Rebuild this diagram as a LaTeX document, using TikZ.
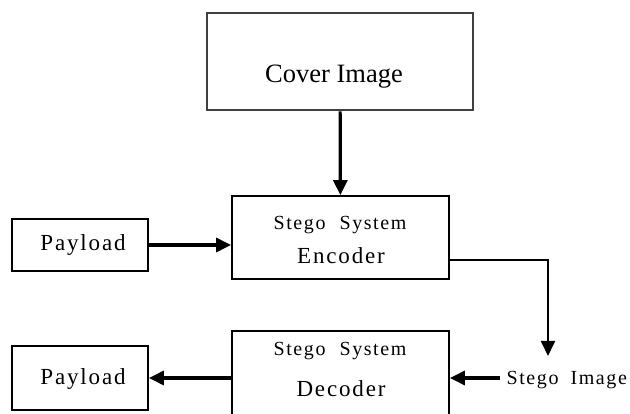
\documentclass[tikz,border=0pt]{standalone}
\usepackage{fontspec}
\setmainfont{Liberation Serif}
\newfontfamily\spacedfont[LetterSpace=8]{Liberation Serif}
\usetikzlibrary{arrows.meta,positioning}
\tikzset{
     blockNode/.style =
        { rectangle
        , draw
        , line width=1.8pt
        , inner sep=0pt
        %, fill=gray!10
        }
   , bigNode/.style =
        { blockNode
        , draw=black!75
        , line width=2.8pt
        }
   , textNode/.style =
        { inner sep=0pt
        , font=\spacedfont\fontsize{23}{26}\selectfont
        }
   , stegoText/.style =
        { inner sep=0pt
        , font=\spacedfont\fontsize{20}{24}\selectfont
        }
}

\begin{document}
\begin{tikzpicture}
            [ x=1pt
            , y=-1pt
            , ->
            , >={Triangle[length=15pt,width=14pt]}
            , line width=3.2pt
            ]
            \useasboundingbox (0,0) rectangle (630,414);

            % boxes
            \node[bigNode, minimum width=266pt, minimum height=97pt] (cover) at (340,61.5) {};
            \node[blockNode, minimum width=217pt, minimum height=83pt] (enc) at (340.5,237.5) {};
            \node[blockNode, minimum width=217pt, minimum height=90pt] (dec) at (340.5,376) {};
            \node[blockNode, minimum width=136pt, minimum height=52pt] (pin) at (80,245) {};
            \node[blockNode, minimum width=136pt, minimum height=64pt] (pout) at (80,378) {};

            % texts
            \node[inner sep=0pt, font=\fontsize{26.5}{30}\selectfont] (covertext) at (334,77) {Cover Image};
            \node[stegoText] (enctop) at (340,225) {Stego\hspace{14pt}System};
            \node[textNode] (encbot) at (341,256) {Encoder};
            \node[stegoText] (dectop) at (340,351) {Stego\hspace{14pt}System};
            \node[textNode] (decbot) at (341,389) {Decoder};
            \node[textNode] at (83,245) (pintext) {Payload};
            \node[textNode] at (83,379) (pouttext) {Payload};
            \node[stegoText, anchor=west] (stego) at (505,380) {Stego\hspace{12pt}Image};

            % connectors
            \draw (cover) -- (enc);
            \draw (pin) -- (pin -| enc.west);
            \coordinate (turn) at (548,260);
            \draw[line width=1.8pt] (enc.east |- turn) -- (turn) -- (548,356);
            \coordinate (sin) at (500,378);
            \draw (sin) -- (dec.east |- sin);
            \draw (dec.west |- sin) -- (pout.east |- sin);
\end{tikzpicture}
\end{document}
